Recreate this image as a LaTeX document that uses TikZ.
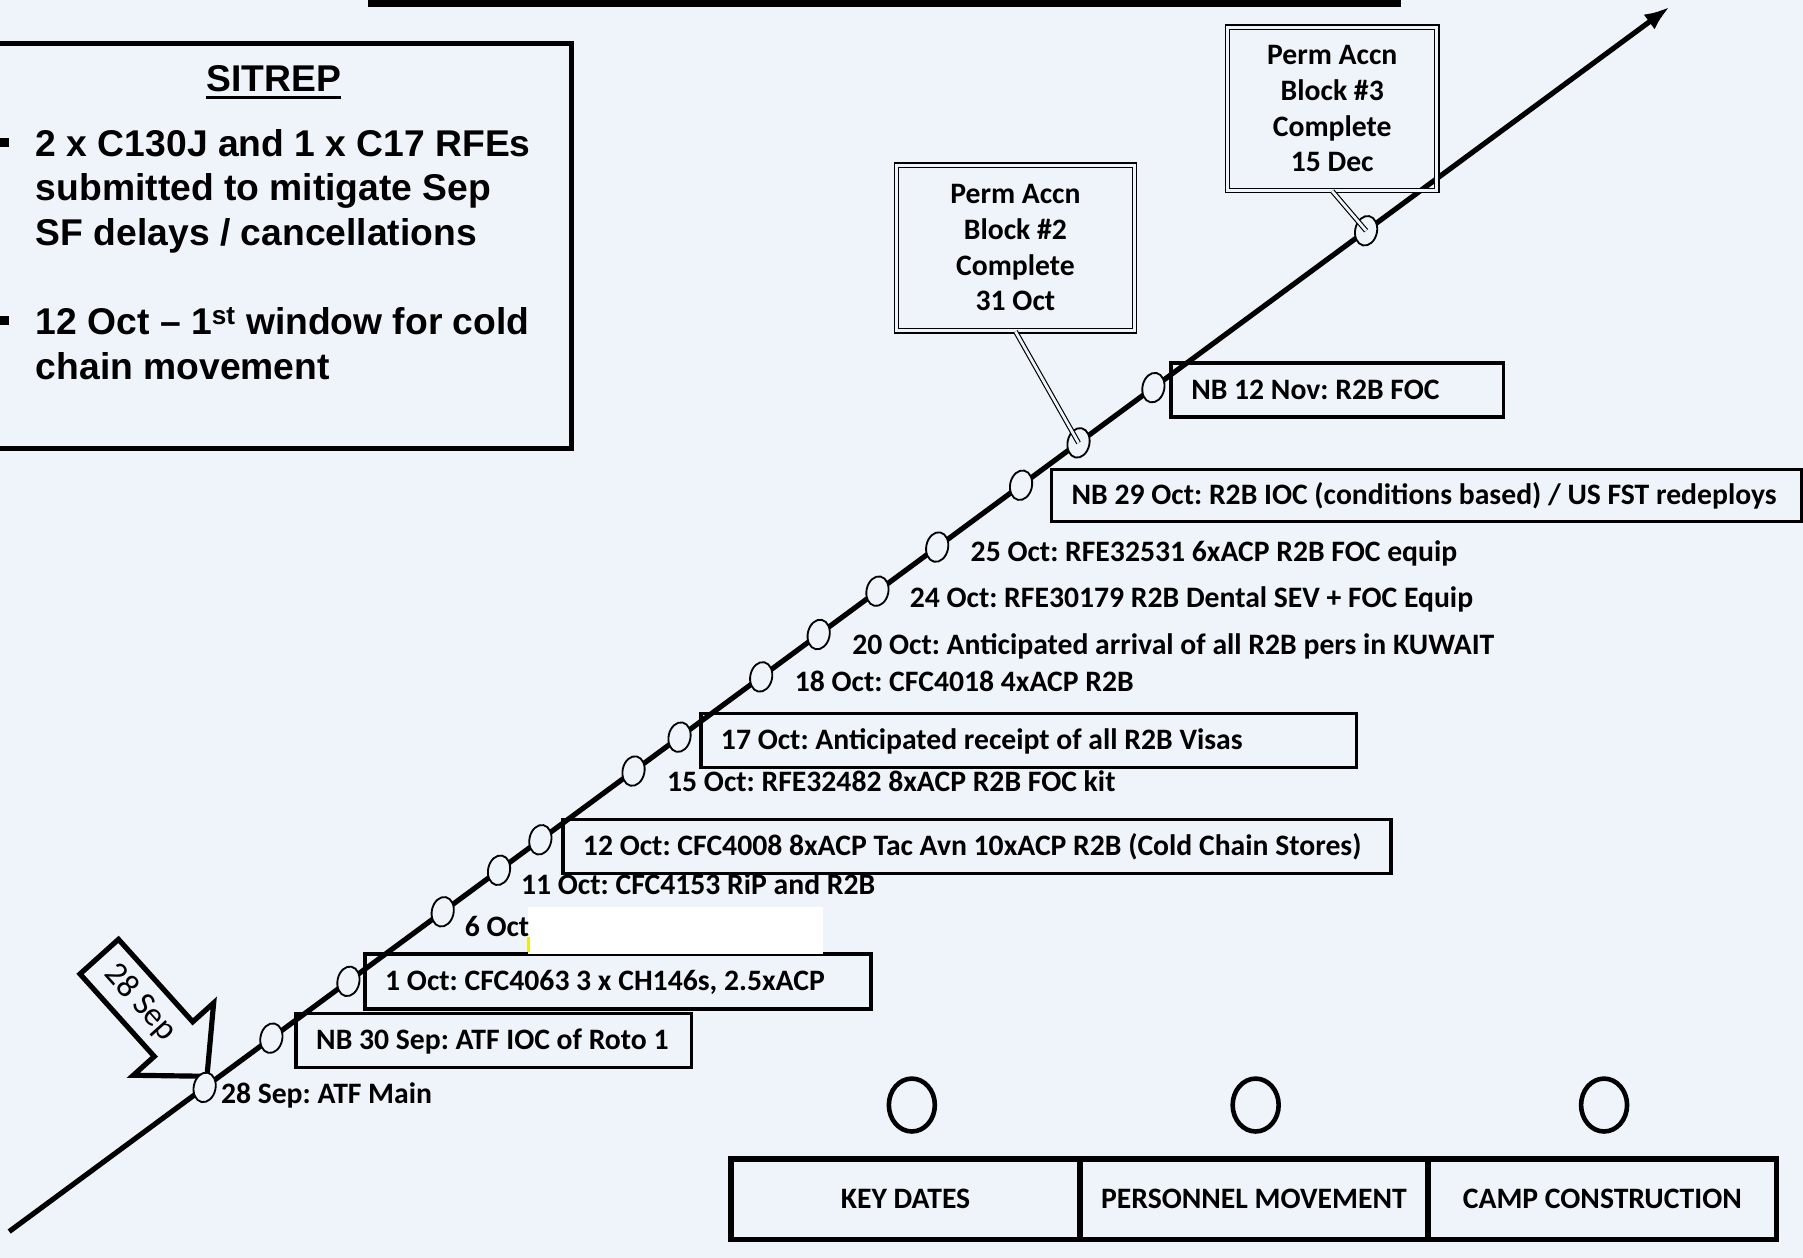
\documentclass[tikz,border=0pt]{standalone}
\usepackage{fontspec}
\setmainfont{Carlito}
\newfontfamily\arialfont{Liberation Sans}
\usetikzlibrary{calc}
\usetikzlibrary{positioning}
\usetikzlibrary{shapes.geometric, arrows.meta}

\definecolor{paper}{RGB}{238,244,249}
\definecolor{hilite}{RGB}{240,232,30}
\newcommand{\sitrepfont}{\arialfont\bfseries\fontsize{32.4}{39}\selectfont}
\newcommand{\lblfont}{\bfseries\fontsize{25.8}{31}\selectfont\frenchspacing}

\tikzset{
  lbl/.style={anchor=west, inner sep=0pt, text height=18pt, text depth=2pt, font=\lblfont},
  lblbox/.style={draw, line width=3pt, anchor=north west, inner xsep=17.5pt, inner ysep=0pt,
    align=flush left, text height=18pt, text depth=2pt, font=\lblfont,
    execute at begin node={\hbox\bgroup}, execute at end node={\egroup}},
  dot/.style={ellipse, draw, line width=1.6pt, fill=paper, minimum width=19pt, minimum height=26pt,
    inner sep=0pt, rotate=-12},
  blkbox/.style={draw, double=paper, double distance=2.5pt, line width=1.2pt, anchor=north west,
    align=center, inner sep=0pt, font=\lblfont},
  callout/.style={double=paper, double distance=2.4pt, line width=1pt},
  keybox/.style={draw, line width=5pt, minimum width=303pt, minimum height=70pt, inner sep=0pt, font=\lblfont},
  keydot/.style={ellipse, draw, line width=4pt, minimum width=40pt, minimum height=46pt, inner sep=0pt},
  bullet/.style={fill, minimum size=8pt, inner sep=0pt},
}

\begin{document}
\begin{tikzpicture}[x=1pt,y=1pt,yscale=-1,xscale=1]
%Background
\path[use as bounding box, fill=paper] (0,0) rectangle (1568,1094);

%Top bar
\fill (320,0) rectangle (1218,6);

%Shape: Rectangle
\draw[line width=4pt] (-10,38) rectangle (497,390);
% Text Node
\node[inner sep=0pt, font=\sitrepfont] (sitrep) at (238,68) {SITREP};
\draw[line width=2.5pt] ($(sitrep.base west)+(0,6)$) -- ($(sitrep.base east)+(0,6)$);
% Text Node
\node[bullet] (bul1) at (4,124) {};
\node[inner sep=0pt, anchor=north west, align=left, font=\sitrepfont] (sit1) at (31,112)
  {2 x C130J and 1 x C17 RFEs\\submitted to mitigate Sep\\SF delays / cancellations};
% Text Node
\node[bullet] (bul2) at (4,279) {};
\node[inner sep=0pt, anchor=north west, align=left, font=\sitrepfont] (sit2) at (31,267)
  {12 Oct – 1\textsuperscript{st} window for cold\\chain movement};

%Timeline
\coordinate (tstart) at (8,1071);
\coordinate (tend) at (1452,6);
\draw[line width=4.5pt, -{Latex[length=22pt,width=16pt]}] (tstart) -- (tend);

%Shape: Block Arrow
\begin{scope}[shift={(180,936)}, rotate=48]
\draw[line width=4.5pt, line join=miter, fill=paper] (0,0) -- (-43.5,47) -- (-43.5,22.5) -- (-140,22.5)
  -- (-140,-22.5) -- (-43.5,-22.5) -- (-43.5,-47) -- cycle;
\end{scope}
% Text Node
\node[inner sep=0pt, rotate=-48, font=\fontsize{29}{32}\selectfont] (arrlbl) at (122,872) {28 Sep};

%Boxed events
\node[lblbox, text width=309pt, minimum height=47pt] (b30sep) at (256,880) {NB 30 Sep: ATF IOC of Roto 1};
\node[lblbox, text width=405pt, minimum height=48pt] (b1oct) at (316,828) {1 Oct: CFC4063 3 x CH146s, 2.5xACP};
\node[lblbox, text width=685pt, minimum height=47pt] (b12oct) at (488,711) {12 Oct: CFC4008 8xACP Tac Avn 10xACP R2B (Cold Chain Stores)};
\node[lblbox, text width=535pt, minimum height=47pt] (b17oct) at (608,619) {17 Oct: Anticipated receipt of all R2B Visas};
\node[lblbox, text width=617pt, minimum height=45pt] (b29oct) at (913,407) {NB 29 Oct: R2B IOC (conditions based) / US FST redeploys};
\node[lblbox, text width=254pt, minimum height=47pt] (b12nov) at (1017,314) {NB 12 Nov: R2B FOC};

%Redaction
\fill[white] (459,789) rectangle (716,830);
\fill[hilite] (458,815) rectangle (461,828);

%Shape: Ellipse
\node[dot] (d28sep) at ($(tstart)!0.1177!(tend)$) {};
\node[dot] (d30sep) at ($(tstart)!0.1579!(tend)$) {};
\node[dot] (d1oct) at ($(tstart)!0.2043!(tend)$) {};
\node[dot] (d6oct) at ($(tstart)!0.2611!(tend)$) {};
\node[dot] (d11oct) at ($(tstart)!0.2950!(tend)$) {};
\node[dot] (d12oct) at ($(tstart)!0.3199!(tend)$) {};
\node[dot] (d15oct) at ($(tstart)!0.3760!(tend)$) {};
\node[dot] (d17oct) at ($(tstart)!0.4037!(tend)$) {};
\node[dot] (d18oct) at ($(tstart)!0.4529!(tend)$) {};
\node[dot] (d20oct) at ($(tstart)!0.4875!(tend)$) {};
\node[dot] (d24oct) at ($(tstart)!0.5229!(tend)$) {};
\node[dot] (d25oct) at ($(tstart)!0.5589!(tend)$) {};
\node[dot] (d29oct) at ($(tstart)!0.6094!(tend)$) {};
\node[dot] (d31oct) at ($(tstart)!0.6440!(tend)$) {};
\node[dot] (d12nov) at ($(tstart)!0.6891!(tend)$) {};
\node[dot] (d15dec) at ($(tstart)!0.8172!(tend)$) {};

% Text Node
\node[lbl] (l28sep) at (192,952) {28 Sep: ATF Main};
% Text Node
\node[lbl] (l6oct) at (404,806) {6 Oct};
% Text Node
\node[lbl] (l11oct) at (453,770) {11 Oct: CFC4153 RiP and R2B};
% Text Node
\node[lbl] (l15oct) at (580,680) {15 Oct: RFE32482 8xACP R2B FOC kit};
% Text Node
\node[lbl] (l18oct) at (691,593) {18 Oct: CFC4018 4xACP R2B};
% Text Node
\node[lbl] (l20oct) at (741,561) {20 Oct: Anticipated arrival of all R2B pers in KUWAIT};
% Text Node
\node[lbl] (l24oct) at (791,520) {24 Oct: RFE30179 R2B Dental SEV + FOC Equip};
% Text Node
\node[lbl] (l25oct) at (844,480) {25 Oct: RFE32531 6xACP R2B FOC equip};

%Perm Accn blocks
\node[blkbox, minimum width=207pt, minimum height=144pt] (blk2) at (779,143) {Perm Accn\\Block \#2\\Complete\\31 Oct};
\node[blkbox, minimum width=182pt, minimum height=142pt] (blk3) at (1067,23) {Perm Accn\\Block \#3\\Complete\\15 Dec};
\draw[callout] (blk2.south) -- (d31oct.center);
\draw[callout] (blk3.south) -- (d15dec.center);

%Key
\node[keydot] (kd1) at (793,961) {};
\node[keydot] (kd2) at (1092,961) {};
\node[keydot] (kd3) at (1395,961) {};
\node[keybox] (kbox1) at (787.5,1043) {KEY DATES};
\node[keybox] (kbox2) at (1090.5,1043) {PERSONNEL MOVEMENT};
\node[keybox] (kbox3) at (1393.5,1043) {CAMP CONSTRUCTION};

\end{tikzpicture}
\end{document}
